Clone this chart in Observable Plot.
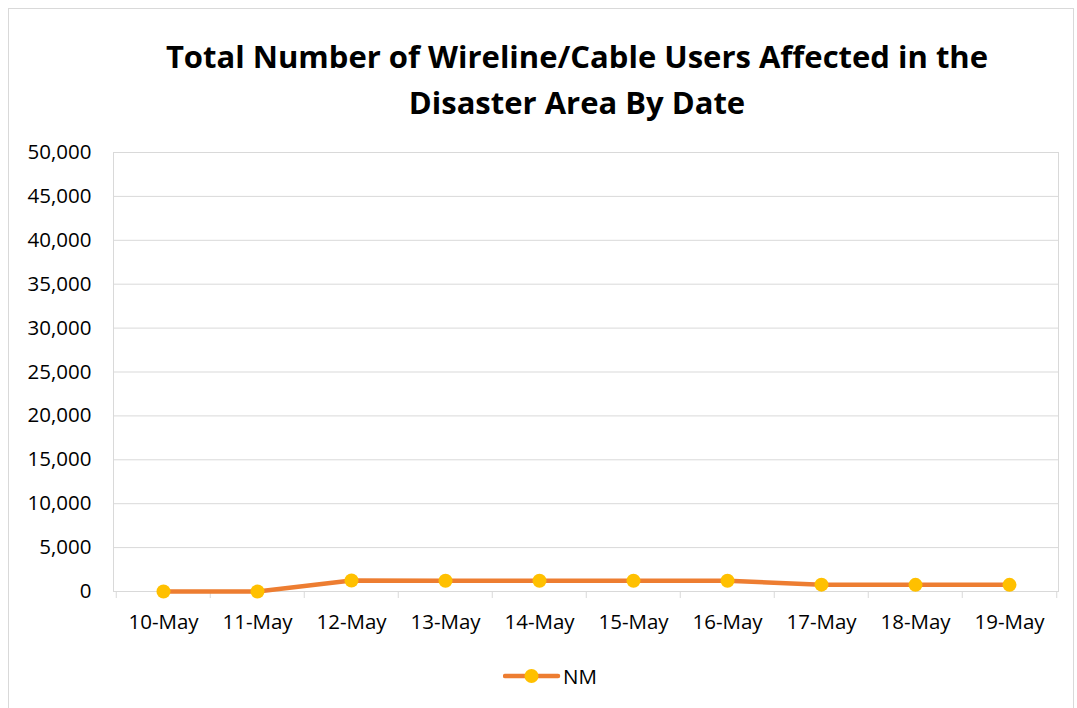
<!DOCTYPE html>
<html>
<head>
<meta charset="utf-8">
<script src="https://cdn.jsdelivr.net/npm/d3@7"></script>
<script src="https://cdn.jsdelivr.net/npm/@observablehq/plot@0.6"></script>
<style>
  html, body { margin: 0; padding: 0; background: #fff; }
  #chart { position: relative; width: 1077px; height: 708px; overflow: hidden; font-family: "Open Sans", sans-serif; }
  #border { position: absolute; left: 8px; top: 8px; width: 1064px; height: 760px; border: 1px solid #d9d9d9; }
  #title { position: absolute; left: 0; width: 1154px; top: 33px; text-align: center; font-weight: bold; font-size: 31px; line-height: 46px; color: #000; }
  #plot { position: absolute; left: 0; top: 135px; }
  #legend { position: absolute; left: 503px; top: 662px; height: 28px; display: flex; align-items: center; font-size: 20.5px; color: #000; }
</style>
</head>
<body>
<div id="chart">
  <div id="border"></div>
  <div id="title">Total Number of Wireline/Cable Users Affected in the<br>Disaster Area By Date</div>
  <div id="plot"></div>
  <div id="legend"></div>
</div>
<script>
const dates = ["10-May","11-May","12-May","13-May","14-May","15-May","16-May","17-May","18-May","19-May"];
const nm = [0, 0, 1250, 1230, 1230, 1230, 1220, 780, 760, 760];
const seriesName = "NM";
const yTicks = [0,5000,10000,15000,20000,25000,30000,35000,40000,45000,50000];

const lineColor = "#ed7d31";
const dotColor = "#ffc000";
const gridColor = "#d9d9d9";

const data = dates.map((d, i) => ({date: d, value: nm[i]}));

const W = 1077, H = 520;
const mL = 113, mR = 19, mT = 17, mB = 64;
const bw = (W - mL - mR) / dates.length;

const plot = Plot.plot({
  width: W, height: H,
  marginLeft: mL, marginRight: mR, marginTop: mT, marginBottom: mB,
  style: {fontFamily: "Open Sans, sans-serif", fontSize: "20.5px", color: "#000", background: "transparent"},
  x: {type: "band", domain: dates, padding: 0, label: null},
  y: {domain: [0, 50000], label: null},
  marks: [
    Plot.ruleY(yTicks, {stroke: gridColor, strokeWidth: 1}),
    Plot.frame({stroke: gridColor, strokeWidth: 1}),
    Plot.ruleX(dates, {x: d => d, dx: -bw/2, y1: 0, y2: 0, insetBottom: -7, stroke: gridColor}),
    Plot.ruleX([dates[dates.length-1]], {x: d => d, dx: bw/2, y1: 0, y2: 0, insetBottom: -7, stroke: gridColor}),
    Plot.axisY({ticks: yTicks, tickSize: 0, tickPadding: 22, tickFormat: d3.format(","), fontSize: 20.5}),
    Plot.axisX({tickSize: 0, tickPadding: 23, fontSize: 20.5}),
    Plot.line(data, {x: "date", y: "value", stroke: lineColor, strokeWidth: 4.5, strokeLinejoin: "round"}),
    Plot.dot(data, {x: "date", y: "value", r: 7, fill: dotColor, stroke: "none"})
  ]
});
document.getElementById("plot").appendChild(plot);

// legend
const lg = document.getElementById("legend");
const svgNS = "http://www.w3.org/2000/svg";
const ls = document.createElementNS(svgNS, "svg");
ls.setAttribute("width", 58); ls.setAttribute("height", 28);
ls.innerHTML = `<line x1="2" x2="55" y1="14" y2="14" stroke="${lineColor}" stroke-width="4.5" stroke-linecap="round"/><circle cx="28.5" cy="14" r="7" fill="${dotColor}"/>`;
lg.appendChild(ls);
const lt = document.createElement("span");
lt.textContent = seriesName;
lt.style.marginLeft = "2px";
lg.appendChild(lt);
</script>
</body>
</html>
